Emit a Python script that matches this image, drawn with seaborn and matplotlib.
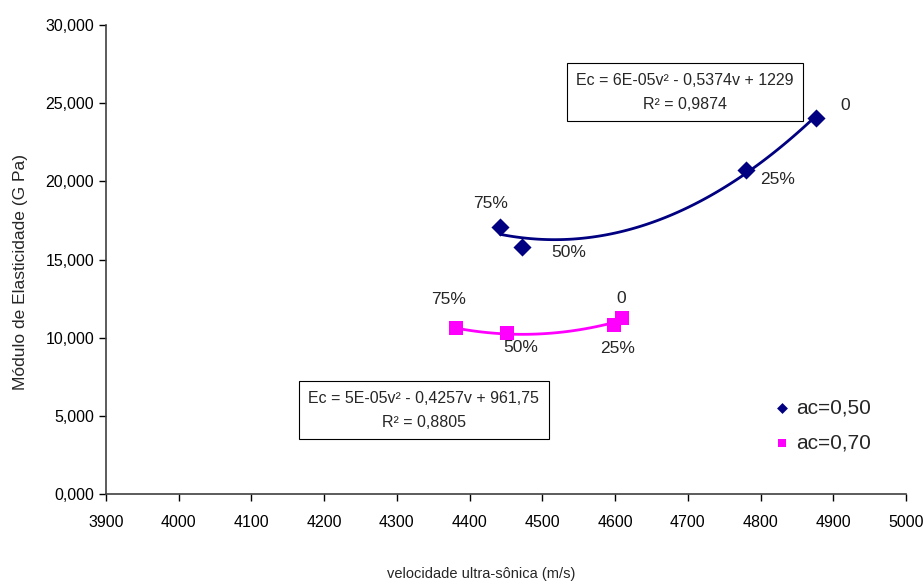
import numpy as np
import pandas as pd
import seaborn as sns
import matplotlib.pyplot as plt
from matplotlib.ticker import FuncFormatter, MultipleLocator

# velocidade ultra-sonica (m/s) e modulo de elasticidade (GPa)
v_050 = [4876, 4780, 4472, 4442]
e_050 = [24.05, 20.73, 15.82, 17.10]
v_070 = [4609, 4598, 4451, 4381]
e_070 = [11.24, 10.81, 10.27, 10.60]
rotulos = ["0", "25%", "50%", "75%"]

eq_050 = "Ec = 6E-05v² - 0,5374v + 1229\nR² = 0,9874"
eq_070 = "Ec = 5E-05v² - 0,4257v + 961,75\nR² = 0,8805"

azul = "#000080"
rosa = "#FF00FF"

sns.set_style("white")
plt.rcParams["font.family"] = ["Liberation Sans", "DejaVu Sans"]

fig = plt.figure(figsize=(9.24, 5.83), dpi=100)
ax = fig.add_axes([0.1147, 0.1527, 0.8658, 0.8043])

df1 = pd.DataFrame({"v": v_050, "E": e_050})
df2 = pd.DataFrame({"v": v_070, "E": e_070})

# linhas de tendencia (polinomial 2a ordem)
for df, cor in [(df1, azul), (df2, rosa)]:
    c = np.polyfit(df["v"], df["E"], 2)
    xs = np.linspace(df["v"].min(), df["v"].max(), 100)
    ax.plot(xs, np.polyval(c, xs), color=cor, lw=2, zorder=2)

sns.scatterplot(data=df1, x="v", y="E", marker="D", s=85, color=azul,
                edgecolor=azul, linewidth=0, label="ac=0,50", ax=ax, zorder=3)
sns.scatterplot(data=df2, x="v", y="E", marker="s", s=110, color=rosa,
                edgecolor=rosa, linewidth=0, label="ac=0,70", ax=ax, zorder=3)

# rotulos dos pontos (deslocamento em pontos)
off_050 = [(21, 9), (23, -7), (34, -4), (-7, 17)]
off_070 = [(0, 14), (3, -17), (10, -10), (-5, 21)]
for xs_, ys_, offs in [(v_050, e_050, off_050), (v_070, e_070, off_070)]:
    for x, y, t, o in zip(xs_, ys_, rotulos, offs):
        ax.annotate(t, (x, y), xytext=o, textcoords="offset points",
                    ha="center", va="center", fontsize=12.5)

box = dict(boxstyle="square,pad=0.6", fc="white", ec="black", lw=0.8)
ax.text(4696, 25.7, eq_050, ha="center", va="center", fontsize=11.5,
        linespacing=1.75, bbox=box)
ax.text(4337, 5.37, eq_070, ha="center", va="center", fontsize=11.5,
        linespacing=1.75, bbox=box)

ax.set_xlim(3900, 5000)
ax.set_ylim(0, 30)
ax.xaxis.set_major_locator(MultipleLocator(100))
ax.yaxis.set_major_locator(MultipleLocator(5))
ax.yaxis.set_major_formatter(FuncFormatter(lambda y, p: f"{y:.3f}".replace(".", ",")))
ax.tick_params(axis="both", direction="out", length=5, width=1, labelsize=11.5,
               bottom=True, left=True, colors="black")
ax.tick_params(axis="x", pad=10)

for s in ["top", "right"]:
    ax.spines[s].set_visible(False)
for s in ["left", "bottom"]:
    ax.spines[s].set_color("#404040")
    ax.spines[s].set_linewidth(1.2)

ax.set_xlabel("velocidade ultra-sônica (m/s)", fontsize=10.5)
ax.set_ylabel("Módulo de Elasticidade (G Pa)", fontsize=12.5)
ax.xaxis.set_label_coords(0.469, -0.156)
ax.yaxis.set_label_coords(-0.0975, 0.473)

ax.legend(loc="upper left", bbox_to_anchor=(0.795, 0.243), frameon=False,
          fontsize=15, handletextpad=-0.3, labelspacing=0.75, markerscale=0.6)

fig.savefig("out.png", dpi=100)
